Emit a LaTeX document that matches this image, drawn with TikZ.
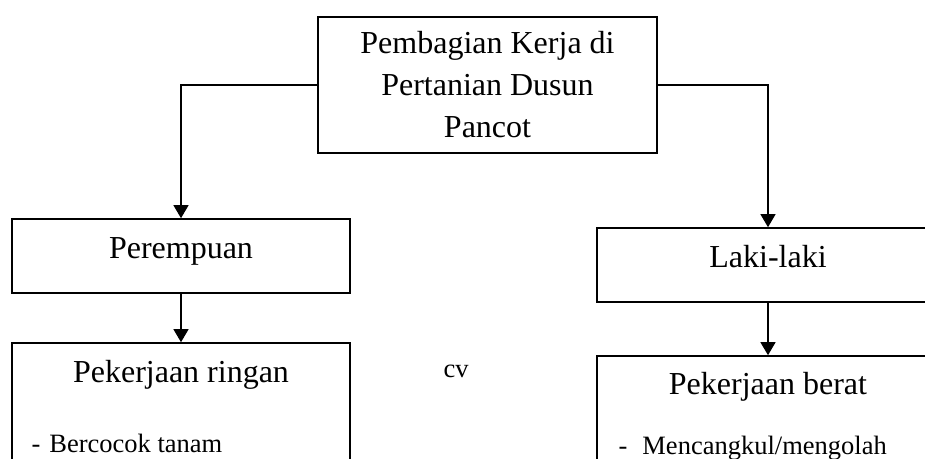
\documentclass[tikz,border=0pt]{standalone}
\usepackage{fontspec}
\setmainfont{Liberation Serif}
\usepackage{tikz}
\usetikzlibrary{positioning}
\usetikzlibrary{arrows.meta}
\newcommand{\fBesar}{\fontsize{16}{21}\selectfont}
\newcommand{\fKecil}{\fontsize{13.25}{16}\selectfont}

\begin{document}
\begin{tikzpicture}[on grid,>={Triangle[width=7.5pt,length=6.5pt]},
		kotak/.style={rectangle,draw=black,line width=0.8pt,inner sep=0pt,font=\fBesar},
		judul/.style={kotak,minimum height=37pt,text height=11pt,text depth=8pt},
		isi/.style={kotak,minimum height=80pt},
		teks/.style={inner sep=0pt,font=\fKecil},
		panah/.style={->,line width=0.6pt}]
		\useasboundingbox (0,0) rectangle (462.5pt,-229.5pt);
		\clip (0,0) rectangle (462.5pt,-229.5pt);
		
		\node[kotak,minimum width=169.5pt,minimum height=68pt,align=center] (top) at (243.75pt,-42.5pt)
			{Pembagian Kerja di\\Pertanian Dusun\\Pancot};
		\node[judul,minimum width=169pt] (per)  [below left=85.5pt and 153.25pt of top]  {Perempuan};
		\node[judul,minimum width=171pt] (laki) [below right=90pt and 140.25pt of top]   {Laki-laki};
		\node[isi,minimum width=169pt]   (ringan) [below=83.5pt of per]  {};
		\node[isi,minimum width=171pt]   (berat)  [below=85.5pt of laki] {};
		
		\node[anchor=base,font=\fBesar] (ringanT) at ([yshift=-20pt]ringan.north) {Pekerjaan ringan};
		\node[anchor=base,font=\fBesar] (beratT)  at ([yshift=-19.5pt]berat.north) {Pekerjaan berat};
		\node[teks,anchor=base west] (ringan1) at ([xshift=10pt,yshift=-55pt]ringan.north west)
			{-\hspace{4.5pt}Bercocok tanam};
		\node[teks,anchor=base west] (berat1) at ([xshift=11pt,yshift=-49.5pt]berat.north west)
			{-\hspace{7.5pt}Mencangkul/mengolah};
		\node[teks,anchor=base] (cv) at (228pt,-188.5pt) {cv};
		
		\draw[panah] (top.west) -| (per);
		\draw[panah] (top.east) -| (laki);
		\path[panah]
		(per)  edge (ringan)
		(laki) edge (berat);
\end{tikzpicture}
\end{document}
